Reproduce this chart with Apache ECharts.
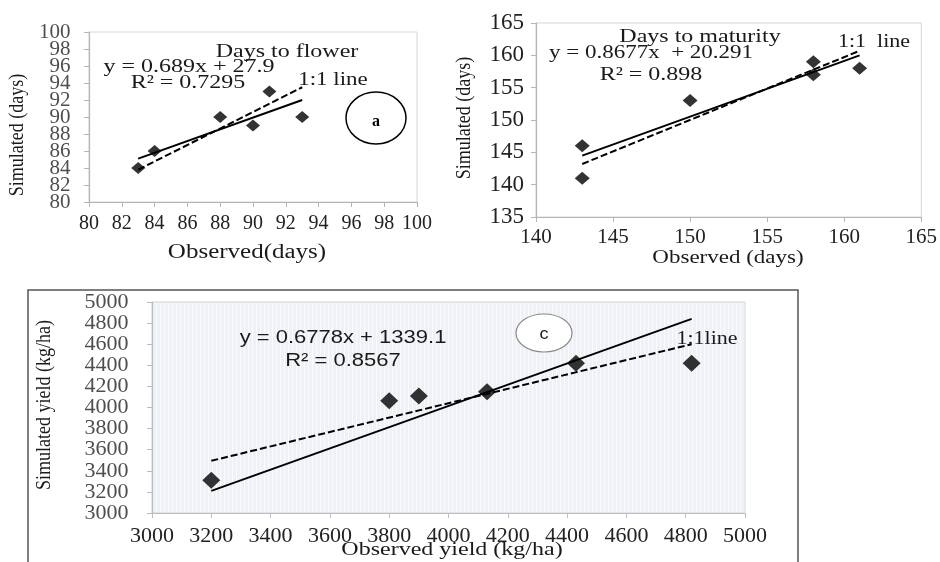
<!DOCTYPE html>
<html>
<head>
<meta charset="utf-8">
<script src="https://cdn.jsdelivr.net/npm/echarts@6/dist/echarts.min.js"></script>
<style>html,body{margin:0;padding:0;background:#fff;}#c{width:940px;height:562px;}</style>
</head>
<body>
<div id="c"></div>
<script>
// Panel a: Days to flower
var flowerObs = [83, 84, 88, 90, 91, 93];
var flowerSim = [84, 86, 90, 89, 93, 90];
var flowerFit = [[83, 85.1], [93, 92.0]];
var flowerOneToOne = [[83, 83.8], [93, 93.5]];
var flowerYTicks = [80, 82, 84, 86, 88, 90, 92, 94, 96, 98, 100];
// Panel b: Days to maturity
var maturityObs = [143, 143, 150, 158, 158, 161];
var maturitySim = [146, 141, 153, 159, 157, 158];
var maturityFit = [[143, 144.5], [161, 160.0]];
var maturityOneToOne = [[143, 143.2], [161, 160.7]];
// Panel c: Yield
var yieldObs = [3200, 3800, 3900, 4130, 4430, 4820];
var yieldSim = [3310, 4065, 4110, 4150, 4420, 4420];
var yieldFit = [[3200, 3495], [4820, 4600]];
var yieldOneToOne = [[3200, 3210], [4820, 4840]];
var yieldYTicks = [3000, 3200, 3400, 3600, 3800, 4000, 4200, 4400, 4600, 4800, 5000];

function pairs(xs, ys) { return xs.map(function (x, i) { return [x, ys[i]]; }); }

var serif = '"Liberation Serif", "Times New Roman", serif';
var sans = '"Liberation Sans", Arial, sans-serif';

// stripe pattern for panel c background
var pat = document.createElement('canvas');
pat.width = 4; pat.height = 4;
var pc = pat.getContext('2d');
pc.fillStyle = '#eef2f8'; pc.fillRect(0, 0, 4, 4);
pc.fillStyle = '#f9fbfd'; pc.fillRect(0, 0, 1, 4);

function plain(v) { return String(v); }

function xAx(grid, min, max, interval, fs, margin, lineColor) {
  return {
    type: 'value', gridIndex: grid, min: min, max: max, interval: interval,
    axisLine: { show: true, lineStyle: { color: lineColor, width: 1.2 } },
    axisTick: { show: true, length: 5, lineStyle: { color: lineColor } },
    splitLine: { show: false },
    axisLabel: { fontFamily: serif, fontSize: fs, color: '#222', margin: margin,
      showMinLabel: true, showMaxLabel: true, formatter: plain }
  };
}
function yAx(grid, min, max, interval, fs, margin, lineColor, showLabels) {
  return {
    type: 'value', gridIndex: grid, min: min, max: max, interval: interval,
    axisLine: { show: true, lineStyle: { color: lineColor, width: 1.2 } },
    axisTick: { show: true, length: 5, lineStyle: { color: lineColor } },
    splitLine: { show: false },
    axisLabel: { show: showLabels, fontFamily: serif, fontSize: fs, color: '#222', margin: margin,
      showMinLabel: true, showMaxLabel: true, formatter: plain }
  };
}
// tick labels drawn as labels of invisible points placed on the y axis through the axis scale
function tickLabels(i, xMin, ticks, fs, dist) {
  return { type: 'scatter', xAxisIndex: i, yAxisIndex: i, silent: true, clip: false, z: 6,
    data: ticks.map(function (t) { return [xMin, t]; }),
    symbol: 'circle', symbolSize: 1, itemStyle: { color: 'rgba(0,0,0,0)' },
    label: { show: true, position: 'left', distance: dist, fontFamily: serif, fontSize: fs, color: '#222',
      formatter: function (p) { return String(p.value[1]); } } };
}
function scatter(i, data, size) {
  return { type: 'scatter', xAxisIndex: i, yAxisIndex: i, data: data, symbol: 'diamond',
    symbolSize: size, itemStyle: { color: '#000' }, z: 5 };
}
function line(i, data, dashed) {
  return { type: 'line', xAxisIndex: i, yAxisIndex: i, data: data, symbol: 'none',
    lineStyle: { color: '#000', width: 2, type: dashed ? [7, 3] : 'solid' }, z: 4 };
}
function txt(x, y, s, fs, font, rot, sy) {
  var o = { type: 'text', x: x, y: y, z: 20, scaleY: sy || 0.82,
    style: { text: s, fontSize: fs, fontFamily: font, fill: '#1a1a1a', align: 'center', verticalAlign: 'middle' } };
  if (rot) { o.rotation = Math.PI / 2; o.scaleY = 1; o.scaleX = sy || 0.82; }
  return o;
}

var chart = echarts.init(document.getElementById('c'), null, { renderer: 'canvas' });
chart.setOption({
  animation: false,
  backgroundColor: '#fff',
  grid: [
    { left: 89, top: 32, width: 328, height: 170, show: true, borderColor: '#d6d6d6', borderWidth: 1, backgroundColor: '#fff' },
    { left: 536, top: 23, width: 387, height: 194, show: true, borderColor: '#d6d6d6', borderWidth: 1, backgroundColor: '#fff' },
    { left: 152, top: 302, width: 593, height: 211, show: true, borderColor: '#d0d6de', borderWidth: 1,
      backgroundColor: { image: pat, repeat: 'repeat' } }
  ],
  xAxis: [
    xAx(0, 80, 100, 2, 20, 12, '#b5b5b5'),
    xAx(1, 140, 165, 5, 21, 10, '#b5b5b5'),
    xAx(2, 3000, 5000, 200, 22, 12, '#b8bec6')
  ],
  yAxis: [
    yAx(0, 80, 100, 2, 21, 17, '#b5b5b5', false),
    yAx(1, 135, 165, 5, 23, 12, '#b5b5b5', true),
    yAx(2, 3000, 5000, 200, 22, 22, '#b8bec6', false)
  ],
  series: [
    tickLabels(0, 80, flowerYTicks, 21, 18),
    tickLabels(2, 3000, yieldYTicks, 22, 23),
    line(0, flowerFit, false), line(0, flowerOneToOne, true), scatter(0, pairs(flowerObs, flowerSim), [14, 12]),
    line(1, maturityFit, false), line(1, maturityOneToOne, true), scatter(1, pairs(maturityObs, maturitySim), [15, 13]),
    line(2, yieldOneToOne, false), line(2, yieldFit, true), scatter(2, pairs(yieldObs, yieldSim), [18, 17])
  ],
  graphic: [
    // panel c outer frame
    { type: 'rect', z: 1, shape: { x: 28, y: 290, width: 770, height: 300 }, style: { fill: null, stroke: '#555', lineWidth: 1.5 } },
    // panel a texts
    txt(287, 52, 'Days to flower', 24, serif),
    txt(189, 67, 'y = 0.689x + 27.9', 24, serif),
    txt(188, 83, 'R\u00b2 = 0.7295', 24, serif),
    txt(333, 80, '1:1 line', 23, serif),
    { type: 'ellipse', z: 20, shape: { cx: 376, cy: 118, rx: 30, ry: 26 }, style: { fill: null, stroke: '#000', lineWidth: 1.5 } },
    { type: 'text', z: 20, x: 376, y: 122, style: { text: 'a', fontSize: 16, fontFamily: serif, fill: '#000', fontWeight: 'bold', align: 'center', verticalAlign: 'middle' } },
    txt(247, 253, 'Observed(days)', 25, serif),
    txt(18, 135, 'Simulated (days)', 20, serif, true, 0.9),
    // panel b texts
    txt(700, 37, 'Days to maturity', 24, serif),
    txt(651, 53, 'y = 0.8677x  + 20.291', 23, serif),
    txt(651, 75, 'R\u00b2 = 0.898', 24, serif),
    txt(874, 42, '1:1  line', 22, serif),
    txt(728, 258, 'Observed (days)', 23, serif),
    txt(465, 118, 'Simulated (days)', 20, serif, true, 0.9),
    // panel c texts
    txt(343, 338, 'y = 0.6778x + 1339.1', 22, sans, false, 0.85),
    txt(343, 361, 'R\u00b2 = 0.8567', 22, sans, false, 0.85),
    { type: 'ellipse', z: 20, shape: { cx: 544, cy: 333, rx: 28, ry: 19 }, style: { fill: '#fff', stroke: '#888', lineWidth: 1.2 } },
    txt(544, 335, 'c', 18, sans, false, 0.9),
    txt(707, 339, '1:1line', 22, serif),
    txt(452, 550, 'Observed yield (kg/ha)', 24, serif),
    txt(45, 405, 'Simulated yield (kg/ha)', 20, serif, true, 0.9)
  ]
});
</script>
</body>
</html>
